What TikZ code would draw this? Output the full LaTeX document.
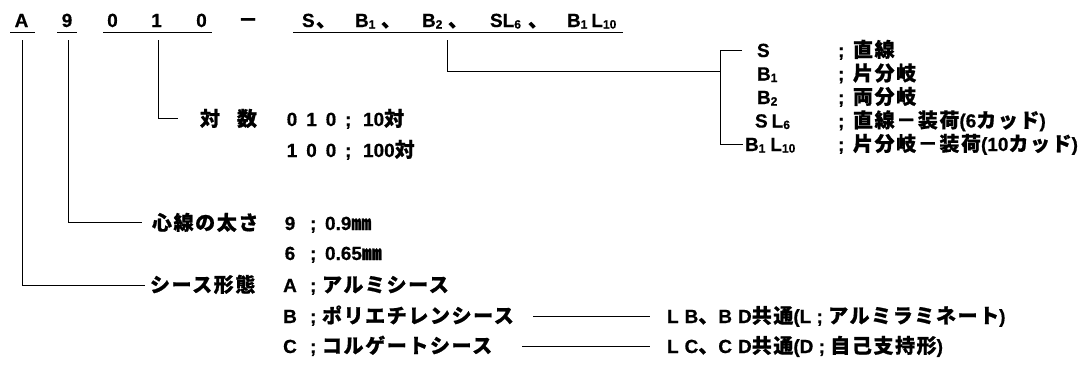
\documentclass[tikz,border=0pt]{standalone}
\usepackage{fontspec}
\setmainfont{Liberation Sans}[BoldFeatures={FakeBold=0.6}]
\newfontfamily\jp{Noto Sans CJK JP}[LetterSpace=8, BoldFeatures={FakeBold=0.8}]
\newcommand\J[1]{{\fontsize{20}{20}\jp #1}}
\newcommand\sbs[1]{\raisebox{-1.5pt}{\fontsize{12}{12}\selectfont #1}}
\tikzset{
  lbl/.style={anchor=base west, inner sep=0pt, outer sep=0pt},
  ctr/.style={anchor=base, inner sep=0pt, outer sep=0pt},
  ln/.style={line width=0.9pt, black},
}
\begin{document}
\begin{tikzpicture}[x=1pt, y=-1pt, font=\fontsize{19}{19}\selectfont\bfseries]
\useasboundingbox (0,0) rectangle (1085,370);
% ---- top code row
\node[ctr] (tA) at (21.5,27) {A};
\node[ctr] (t9) at (67,27) {9};
\node[ctr] (n1) at (112.5,27) {0};
\node[ctr] (n2) at (156.5,27) {1};
\node[ctr] (n3) at (201.5,27) {0};
\node[ctr] (tdash) at (248,27) {\J{－}};
\node[lbl] (g1) at (302,27) {S};
\node[lbl] (c1) at (316,27) {\J{、}};
\node[lbl] (g2) at (355,27) {B\sbs{1}};
\node[lbl] (c2) at (381,27) {\J{、}};
\node[lbl] (g3) at (422,27) {B\sbs{2}};
\node[lbl] (c3) at (448,27) {\J{、}};
\node[lbl] (g4) at (490,27) {SL\sbs{6}};
\node[lbl] (c4) at (528,27) {\J{、}};
\node[lbl] (g5) at (567,27) {B\sbs{1}\hspace{4pt}L\sbs{10}};
% underlines
\draw[ln] (10,32) -- (35,32);
\draw[ln] (57,32) -- (77,32);
\draw[ln] (103,32) -- (212,32);
\draw[ln] (293,32) -- (623,32);
% ---- pair count
\node[lbl] (ta1) at (200,126) {\J{対}};
\node[lbl] (ta2) at (237,126) {\J{数}};
\node[ctr] (pa1) at (292,126) {0};
\node[ctr] (pa2) at (311.5,126) {1};
\node[ctr] (pa3) at (331,126) {0};
\node[lbl] (pa4) at (345,126) {;};
\node[lbl] (pa5) at (363,126) {10\J{対}};
\node[ctr] (pb1) at (292,157) {1};
\node[ctr] (pb2) at (311.5,157) {0};
\node[ctr] (pb3) at (331,157) {0};
\node[lbl] (pb4) at (345,157) {;};
\node[lbl] (pb5) at (363,157) {100\J{対}};
% ---- conductor size
\node[lbl] (heart) at (152,230) {\J{心線の太さ}};
\node[ctr] (h91) at (290,230) {9};
\node[lbl] (h92) at (310,230) {;};
\node[lbl] (h93) at (325,230) {0.9\J{㎜}};
\node[ctr] (h61) at (290,260) {6};
\node[lbl] (h62) at (310,260) {;};
\node[lbl] (h63) at (325,260) {0.65\J{㎜}};
% ---- sheath
\node[lbl] (sheath) at (150,292) {\J{シース形態}};
\node[ctr] (sa1) at (290,292) {A};
\node[lbl] (sa2) at (310,292) {;};
\node[lbl] (sa3) at (322,292) {\J{アルミシース}};
\node[ctr] (sb1) at (290,323) {B};
\node[lbl] (sb2) at (310,323) {;};
\node[lbl] (sb3) at (322,323) {\J{ポリエチレンシース}};
\node[ctr] (sc1) at (290,353) {C};
\node[lbl] (sc2) at (310,353) {;};
\node[lbl] (sc3) at (322,353) {\J{コルゲートシース}};
\node[lbl] (lb) at (667,323) {L\hspace{6pt}B\J{、}B\hspace{6pt}D\J{共通}(L ; \J{アルミラミネート})};
\node[lbl] (lc) at (667,353) {L\hspace{6pt}C\J{、}C\hspace{6pt}D\J{共通}(D ; \J{自己支持形})};
% ---- type bracket
\node[lbl] (k1) at (757,57) {S};
\node[lbl] (k2) at (757,80.5) {B\sbs{1}};
\node[lbl] (k3) at (757,104) {B\sbs{2}};
\node[lbl] (k4) at (755,127.5) {S\hspace{4pt}L\sbs{6}};
\node[lbl] (k5) at (745,151) {B\sbs{1}\hspace{5pt}L\sbs{10}};
\foreach \i/\y in {1/57,2/80.5,3/104,4/127.5,5/151} \node[lbl] (s\i) at (838,\y) {;};
\node[lbl] (m1) at (853,57) {\J{直線}};
\node[lbl] (m2) at (853,80.5) {\J{片分岐}};
\node[lbl] (m3) at (853,104) {\J{両分岐}};
\node[lbl] (m4) at (853,127.5) {\J{直線－装荷}(6\J{カッド})};
\node[lbl] (m5) at (853,151) {\J{片分岐－装荷}(10\J{カッド})};
% ---- connectors
\coordinate (vA) at (22.7,40);  \coordinate (eA) at (145,285);
\coordinate (v9) at (68,40);    \coordinate (e9) at (142,222);
\coordinate (v0) at (158,40);   \coordinate (e0) at (178,118);
\coordinate (vS) at (447,40);   \coordinate (jS) at (720,71);
\coordinate (bt) at (720,50);   \coordinate (btE) at (742,50);
\coordinate (bb) at (720,144);  \coordinate (bbE) at (743,144);
\draw[ln] (vA) |- (eA);
\draw[ln] (v9) |- (e9);
\draw[ln] (v0) |- (e0);
\draw[ln] (vS) |- (jS);
\draw[ln] (btE) -- (bt) -- (bb) -- (bbE);
\coordinate (lB0) at (533,316); \coordinate (lB1) at (650,316);
\coordinate (lC0) at (522,346); \coordinate (lC1) at (650,346);
\draw[ln] (lB0) -- (lB1);
\draw[ln] (lC0) -- (lC1);
\end{tikzpicture}
\end{document}
